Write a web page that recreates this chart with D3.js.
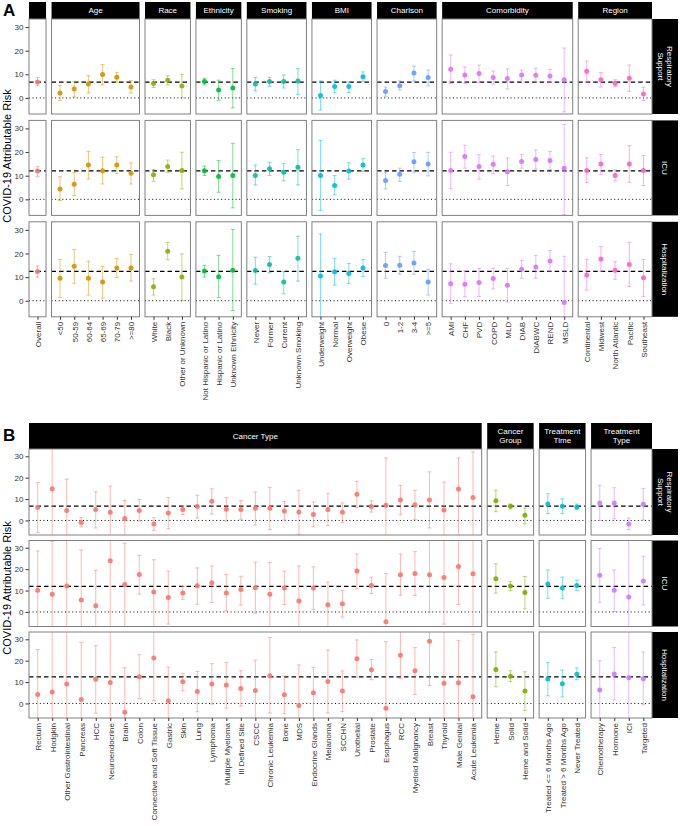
<!DOCTYPE html>
<html><head><meta charset="utf-8">
<script src="https://cdn.jsdelivr.net/npm/d3@7"></script>
<style>
body{margin:0;background:#fff}
svg{display:block}
text{font-family:"Liberation Sans",Arial,Helvetica,sans-serif}
</style>
</head><body>
<svg id="chart" width="680" height="826"></svg>
<script>
// ---------------- DATA ----------------
const outcomes = ["Respiratory\nSupport", "ICU", "Hospitalization"];
const yTicks = [0, 10, 20, 30];
const yDomain = [-6.8, 33.4];

// Panel A  (each entry: [estimate, lower, upper])
const overallCats = ["Overall"];
const overallResp = [[6.7, 5.2, 8.6]];
const overallICU  = [[12.0, 9.7, 13.8]];
const overallHosp = [[12.4, 10.0, 14.7]];

const ageCats = ["<50", "50-59", "60-64", "65-69", "70-79", ">=80"];
const ageResp = [[2.1,-1.0,5.2],[3.8,0.4,7.0],[5.9,2.1,9.4],[9.9,5.5,14.1],[8.7,6.6,10.8],[4.6,2.1,7.3]];
const ageICU  = [[4.4,-0.5,9.6],[6.4,1.6,11.3],[14.5,8.6,20.3],[12.1,6.5,17.8],[14.5,11.0,18.0],[11.0,6.5,15.4]];
const ageHosp = [[9.5,1.4,17.5],[14.6,7.4,21.7],[9.5,2.4,16.7],[7.9,1.1,14.6],[13.9,9.8,17.8],[13.9,8.3,19.6]];

const raceCats = ["White", "Black", "Other or Unknown"];
const raceResp = [[6.1,4.4,7.7],[7.5,5.5,9.4],[5.1,0.0,10.0]];
const raceICU  = [[10.4,7.6,12.7],[13.9,11.4,16.6],[12.2,4.4,19.9]];
const raceHosp = [[5.9,2.4,9.3],[20.9,17.3,24.7],[10.0,0.0,19.8]];

const ethCats = ["Not Hispanic or Latino", "Hispanic or Latino", "Unknown Ethnicity"];
const ethResp = [[7.0,5.5,8.3],[3.4,-1.0,7.5],[4.2,-4.2,12.5]];
const ethICU  = [[12.1,10.1,14.1],[9.7,3.0,16.4],[10.1,-3.6,23.7]];
const ethHosp = [[12.6,10.0,15.0],[10.2,1.4,19.2],[12.9,-4.2,30.2]];

const smokeCats = ["Never", "Former", "Current", "Unknown Smoking"];
const smokeResp = [[5.9,3.0,8.7],[6.9,4.9,8.7],[7.0,4.2,9.7],[7.2,1.5,12.4]];
const smokeICU  = [[10.1,6.1,14.5],[12.9,10.1,15.7],[11.5,7.8,15.1],[13.6,6.1,21.0]];
const smokeHosp = [[12.8,7.0,18.4],[15.3,11.8,18.7],[7.9,2.9,12.3],[18.0,8.3,27.3]];

const bmiCats = ["Underweight", "Normal", "Overweight", "Obese"];
const bmiResp = [[1.0,-5.1,7.2],[4.8,2.1,7.5],[4.8,2.3,6.8],[9.0,7.0,11.0]];
const bmiICU  = [[10.1,-4.7,25.0],[5.9,1.9,10.1],[12.0,8.5,15.5],[14.5,11.7,17.2]];
const bmiHosp = [[10.5,-10,28.2],[12.3,6.6,18.0],[11.5,7.2,15.8],[13.9,10.2,17.4]];

const charlCats = ["0", "1-2", "3-4", ">=5"];
const charlResp = [[2.7,0.7,4.6],[5.2,3.4,7.2],[10.6,7.2,13.5],[8.6,5.1,11.8]];
const charlICU  = [[8.0,4.4,11.3],[10.6,7.6,13.2],[15.9,11.5,19.8],[15.0,9.9,19.9]];
const charlHosp = [[14.9,9.5,20.5],[15.0,11.2,18.8],[16.0,11.2,20.9],[7.9,2.4,13.3]];

const comorbCats = ["AMI", "CHF", "PVD", "COPD", "MLD", "DIAB", "DIABWC", "REND", "MSLD"];
const comorbResp = [[12.1,6.1,18.2],[9.7,6.2,13.1],[10.3,6.5,13.9],[8.6,5.8,11.4],[8.2,3.8,12.3],[9.7,7.6,11.8],[9.6,6.8,12.5],[9.3,6.5,12.1],[7.7,-5.9,21.1]];
const comorbICU  = [[12.2,4.5,19.9],[18.1,13.2,22.9],[13.9,8.5,18.9],[14.8,10.8,18.3],[11.7,5.8,17.5],[16.0,13.2,19.0],[16.9,12.8,20.9],[16.4,12.6,20.2],[13.1,-6.5,31.7]];
const comorbHosp = [[7.2,-1.1,15.6],[7.0,1.7,12.6],[7.7,1.8,13.7],[9.4,5.0,13.7],[6.6,-0.6,13.7],[13.3,9.5,17.1],[14.3,9.5,19.2],[16.8,12.5,21.2],[-0.7,-10,18.8]];

const regionCats = ["Continental", "Midwest", "North Atlantic", "Pacific", "Southeast"];
const regionResp = [[11.3,6.6,15.6],[7.7,4.6,10.7],[6.2,4.8,7.7],[8.3,2.8,13.9],[1.7,-1.1,4.5]];
const regionICU  = [[12.2,7.1,17.6],[14.9,10.6,19.0],[10.1,7.8,12.5],[15.0,7.2,22.7],[12.2,5.8,18.6]];
const regionHosp = [[10.9,4.5,17.5],[17.7,12.5,22.9],[12.9,9.1,16.5],[15.3,6.0,24.7],[9.7,1.8,17.5]];

// Panel B
const cancerCats = ["Rectum","Hodgkin","Other Gastrointestinal","Pancreas","HCC","Neuroendocrine","Brain","Colon",
  "Connective and Soft Tissue","Gastric","Skin","Lung","Lymphoma","Multiple Myeloma","Ill Defined Site","CSCC",
  "Chronic Leukemia","Bone","MDS","Endocrine Glands","Melanoma","SCCHN","Urothelial","Prostate","Esophagus","RCC",
  "Myeloid Malignancy","Breast","Thyroid","Male Genital","Acute Leukemia"];
const cancerResp = [[6.0,-5.7,17.7],[14.8,-10,36],[4.7,-10,19.3],[-0.9,-3.0,1.3],[5.1,-3.5,13.4],[3.8,-10,16.1],
  [0.9,-10,9.3],[4.7,-0.3,9.8],[-1.7,-4.6,1.3],[3.5,-3.9,10.7],[5.1,2.8,6.8],[6.5,1.1,11.8],[9.0,3.0,14.8],
  [5.2,-0.3,10.7],[5.1,0.5,9.3],[5.7,-2.2,13.3],[5.7,-4.3,15.5],[4.4,0.2,8.8],[3.9,-6.5,14.1],[2.8,-3.0,8.7],
  [5.1,-2.4,12.5],[3.8,-0.9,8.2],[12.2,6.0,18.3],[6.5,3.9,9.2],[7.1,-10,29.2],[9.6,2.7,16.4],[7.3,0.5,14.1],
  [9.6,-3.5,22.7],[4.9,-10,17.9],[14.7,-10,29.2],[10.7,-10,32.1]];
const cancerICU = [[10.2,-10,28.5],[8.3,-10,33.0],[12.1,-10,36],[5.6,-10,29.0],[2.9,-10,19.5],[23.9,-10,36],
  [12.8,-10,32.1],[17.5,8.3,26.5],[9.3,-10,24.4],[6.7,-5.7,19.1],[8.9,5.9,12.0],[12.3,3.6,20.6],[13.6,4.4,21.5],
  [8.9,0.5,17.5],[10.5,3.2,16.7],[11.3,-0.5,23.3],[8.3,-10,23.1],[11.2,3.5,19.1],[5.1,-10,21.5],[11.2,1.1,21.1],
  [3.4,-10,13.9],[3.8,-2.4,10.0],[19.1,10.7,27.1],[12.4,8.6,16.3],[-4.6,-10,18.0],[17.4,7.8,27.1],[18.0,7.7,28.2],
  [17.4,0.0,36],[16.1,-5.7,36],[21.2,3.5,36],[17.9,-10,36]];
const cancerHosp = [[4.2,-10,25.2],[5.3,-10,36],[9.1,-10,36],[1.9,-10,28.6],[11.3,-4.5,27.0],[9.8,-10,36],
  [-4.1,-10,16.7],[12.5,2.2,22.8],[21.3,1.3,36],[1.3,-10,17.0],[10.2,5.9,14.1],[5.6,-3.9,15.0],[9.1,-0.3,18.6],
  [8.6,-2.2,19.1],[7.0,-1.3,15.3],[6.1,-10,20.2],[13.0,-4.4,30.8],[4.1,-4.8,12.8],[-0.9,-10,18.0],[5.0,-10,16.9],
  [10.3,-4.4,25.0],[5.8,-3.8,15.2],[20.9,12.3,29.7],[15.8,11.1,20.5],[-2.2,-10,28.9],[22.5,11.6,36],[15.3,4.2,26.1],
  [29.1,8.4,36],[9.4,-10,36],[9.7,-10,29.5],[3.1,-10,32.3]];

const groupCats = ["Heme", "Solid", "Heme and Solid"];
const groupResp = [[9.2,4.1,14.1],[6.6,5.4,7.7],[2.4,-1.6,5.8]];
const groupICU  = [[15.5,8.8,22.5],[12.1,10.0,14.2],[9.1,1.4,16.6]];
const groupHosp = [[15.9,7.8,24.1],[12.7,10.2,15.3],[5.8,-3.3,14.8]];

const timeCats = ["Treated <= 6 Months Ago", "Treated > 6 Months Ago", "Never Treated"];
const timeResp = [[7.7,3.2,12.5],[6.6,3.2,10.1],[6.3,5.1,7.7]];
const timeICU  = [[13.1,6.4,19.6],[11.2,6.2,16.3],[12.4,10.0,14.8]];
const timeHosp = [[11.4,3.6,19.1],[9.2,3.1,15.6],[13.6,11.1,16.6]];

const typeCats = ["Chemotherapy", "Hormone", "ICI", "Targeted"];
const typeResp = [[8.1,0.0,16.4],[8.1,0.8,15.3],[-1.6,-4.3,1.1],[7.6,0.2,15.0]];
const typeICU  = [[17.1,4.5,29.7],[10.2,0.2,19.6],[7.0,-10,36],[14.5,3.3,26.0]];
const typeHosp = [[6.3,-10,20.0],[13.8,1.7,26.1],[12.0,-10,36],[11.6,-0.6,24.1]];

// reference line = overall estimate for each outcome
const refLines = [overallResp[0][0], overallICU[0][0], overallHosp[0][0]];

const colorsA = ["#F8766D","#D39200","#93AA00","#00BA38","#00C19F","#00B9E3","#619CFF","#DB72FB","#FF61C3"];
const colorsB = ["#F8766D","#7CAE00","#00BFC4","#C77CFF"];

const groupsA = [
  {name:"", cats:overallCats, rows:[overallResp,overallICU,overallHosp]},
  {name:"Age", cats:ageCats, rows:[ageResp,ageICU,ageHosp]},
  {name:"Race", cats:raceCats, rows:[raceResp,raceICU,raceHosp]},
  {name:"Ethnicity", cats:ethCats, rows:[ethResp,ethICU,ethHosp]},
  {name:"Smoking", cats:smokeCats, rows:[smokeResp,smokeICU,smokeHosp]},
  {name:"BMI", cats:bmiCats, rows:[bmiResp,bmiICU,bmiHosp]},
  {name:"Charlson", cats:charlCats, rows:[charlResp,charlICU,charlHosp]},
  {name:"Comorbidity", cats:comorbCats, rows:[comorbResp,comorbICU,comorbHosp]},
  {name:"Region", cats:regionCats, rows:[regionResp,regionICU,regionHosp]}
];
groupsA.forEach((g,i)=>g.color=colorsA[i]);

const groupsB = [
  {name:"Cancer Type", cats:cancerCats, rows:[cancerResp,cancerICU,cancerHosp]},
  {name:"Cancer\nGroup", cats:groupCats, rows:[groupResp,groupICU,groupHosp]},
  {name:"Treatment\nTime", cats:timeCats, rows:[timeResp,timeICU,timeHosp]},
  {name:"Treatment\nType", cats:typeCats, rows:[typeResp,typeICU,typeHosp]}
];
groupsB.forEach((g,i)=>g.color=colorsB[i]);

// ---------------- DRAW ----------------
const svg = d3.select("#chart");
const defs = svg.append("defs");
let clipId = 0;

function drawSection(cfg) {
  const {groups, x0, x1, gap, hdrTop, rowTop0, rowStep, rowH, tag, tagY, titleY} = cfg;
  const units = groups.map(g => g.cats.length + 0.2);
  const unitW = (x1 - x0 - gap*(groups.length-1)) / d3.sum(units);
  let cx = x0;
  groups.forEach((g,gi) => {
    const w = units[gi]*unitW;
    g.left = cx; g.w = w;
    g.x = d3.scalePoint().domain(g.cats).range([cx, cx+w]).padding(0.6);
    cx += w + gap;
  });

  const rowTops = outcomes.map((o,i)=> rowTop0 + i*rowStep);

  // tag letter
  svg.append("text").attr("x",3).attr("y",tagY).attr("font-size",17).attr("font-weight","bold")
    .attr("fill","#000").text(tag);

  // y title
  svg.append("text").attr("transform",`translate(10.5,${titleY}) rotate(-90)`)
    .attr("text-anchor","middle").attr("font-size",11).attr("fill","#000")
    .text("COVID-19 Attributable Risk");

  // headers
  groups.forEach(g => {
    svg.append("rect").attr("x",g.left).attr("y",hdrTop).attr("width",g.w).attr("height",rowTop0-hdrTop)
      .attr("fill","#000");
    const lines = g.name.split("\n").filter(s=>s.length);
    const cy = (hdrTop+rowTop0)/2;
    lines.forEach((ln,li)=>{
      svg.append("text").attr("x",g.left+g.w/2).attr("y",cy + (li-(lines.length-1)/2)*8.8)
        .attr("dy","0.35em").attr("text-anchor","middle").attr("font-size",8).attr("fill","#fff").text(ln);
    });
  });

  outcomes.forEach((oc, ri) => {
    const top = rowTops[ri];
    const y = d3.scaleLinear().domain(yDomain).range([top+rowH, top]);

    // right strip
    svg.append("rect").attr("x",x1).attr("y",top).attr("width",26).attr("height",rowH).attr("fill","#000");
    const lines = oc.split("\n");
    lines.forEach((ln,li)=>{
      const off = ((lines.length-1)/2 - li)*8.8;
      svg.append("text").attr("transform",`translate(${x1+13+off},${top+rowH/2}) rotate(90)`)
        .attr("dy","0.35em").attr("text-anchor","middle").attr("font-size",8).attr("fill","#fff").text(ln);
    });

    // y axis on first column
    const yAxis = d3.axisLeft(y).tickValues(yTicks).tickSize(3.5).tickPadding(2);
    const ga = svg.append("g").attr("transform",`translate(${x0},0)`).call(yAxis);
    ga.select(".domain").remove();
    ga.selectAll(".tick line").attr("stroke","#333");
    ga.selectAll(".tick text").attr("font-size",8).attr("fill","#333").attr("font-family","Liberation Sans, Arial, sans-serif");

    groups.forEach(g => {
      const id = "clip"+(clipId++);
      defs.append("clipPath").attr("id",id).append("rect")
        .attr("x",g.left).attr("y",top).attr("width",g.w).attr("height",rowH);
      const pg = svg.append("g");
      pg.append("rect").attr("x",g.left).attr("y",top).attr("width",g.w).attr("height",rowH).attr("fill","#fff");
      const inner = pg.append("g").attr("clip-path",`url(#${id})`);
      // reference lines
      inner.append("line").attr("x1",g.left).attr("x2",g.left+g.w)
        .attr("y1",y(0)).attr("y2",y(0)).attr("stroke","#000").attr("stroke-width",1)
        .attr("stroke-dasharray","1,2.6");
      inner.append("line").attr("x1",g.left).attr("x2",g.left+g.w)
        .attr("y1",y(refLines[ri])).attr("y2",y(refLines[ri])).attr("stroke","#000").attr("stroke-width",1.2)
        .attr("stroke-dasharray","4.5,3");
      const data = g.rows[ri].map((d,i)=>({cat:g.cats[i], est:d[0], lo:d[1], hi:d[2]}));
      const eb = inner.selectAll("g.eb").data(data).enter().append("g")
        .attr("stroke",g.color).attr("stroke-opacity",0.5).attr("stroke-width",1);
      eb.append("line").attr("x1",d=>g.x(d.cat)).attr("x2",d=>g.x(d.cat))
        .attr("y1",d=>y(d.lo)).attr("y2",d=>y(d.hi));
      eb.append("line").attr("x1",d=>g.x(d.cat)-2).attr("x2",d=>g.x(d.cat)+2)
        .attr("y1",d=>y(d.lo)).attr("y2",d=>y(d.lo));
      eb.append("line").attr("x1",d=>g.x(d.cat)-2).attr("x2",d=>g.x(d.cat)+2)
        .attr("y1",d=>y(d.hi)).attr("y2",d=>y(d.hi));
      inner.selectAll("circle").data(data).enter().append("circle")
        .attr("cx",d=>g.x(d.cat)).attr("cy",d=>y(d.est)).attr("r",2.5)
        .attr("fill",g.color).attr("fill-opacity",0.9);
      pg.append("rect").attr("x",g.left).attr("y",top).attr("width",g.w).attr("height",rowH)
        .attr("fill","none").attr("stroke","#808080").attr("stroke-width",1);

      // x axis at bottom row
      if (ri === outcomes.length-1) {
        const xa = d3.axisBottom(g.x).tickSize(3).tickPadding(2);
        const gx = svg.append("g").attr("transform",`translate(0,${top+rowH})`).call(xa);
        gx.select(".domain").remove();
        gx.selectAll(".tick line").attr("stroke","#333");
        gx.selectAll(".tick text").attr("font-size",8).attr("fill","#333")
          .attr("font-family","Liberation Sans, Arial, sans-serif")
          .attr("transform","rotate(-90)").attr("text-anchor","end")
          .attr("x",-5).attr("y",0).attr("dy","0.35em");
      }
    });
  });
}

drawSection({groups:groupsA, x0:29, x1:652, gap:5.5, hdrTop:2, rowTop0:19, rowStep:101.4, rowH:95, tag:"A", tagY:16, titleY:156});
drawSection({groups:groupsB, x0:29, x1:652, gap:5.5, hdrTop:423, rowTop0:449, rowStep:91.5, rowH:86, tag:"B", tagY:441, titleY:588});
</script>
</body></html>
